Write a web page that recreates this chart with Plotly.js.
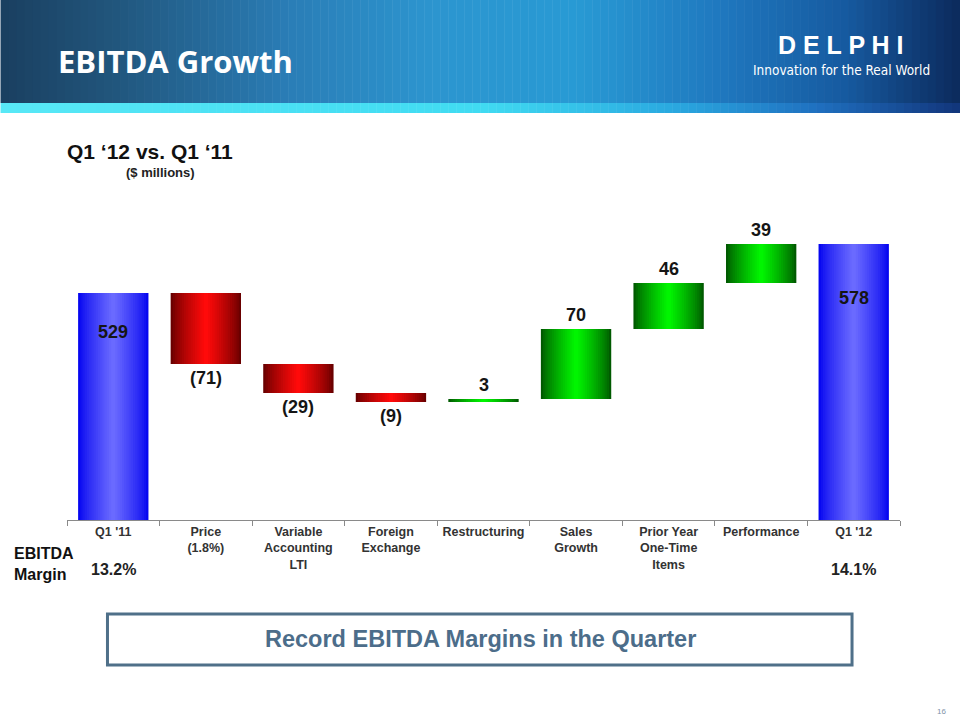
<!DOCTYPE html>
<html>
<head>
<meta charset="utf-8">
<script src="https://cdn.plot.ly/plotly-3.0.1.min.js"></script>
<style>
  html, body { margin: 0; padding: 0; background: #fff; }
  #chart { width: 960px; height: 720px; }
</style>
</head>
<body>
<div id="chart"></div>
<script>
// ---------- data ----------
const categories = ["Q1 '11", "Price", "Variable Accounting LTI", "Foreign Exchange", "Restructuring",
                    "Sales Growth", "Prior Year One-Time Items", "Performance", "Q1 '12"];
const tickLabels = ["Q1 '11", "Price<br>(1.8%)", "Variable<br>Accounting<br>LTI", "Foreign<br>Exchange",
                    "Restructuring", "Sales<br>Growth", "Prior Year<br>One-Time<br>Items", "Performance", "Q1 '12"];
const measures = ["absolute", "relative", "relative", "relative", "relative", "relative", "relative", "relative", "total"];
const values = [529, -71, -29, -9, 3, 70, 46, 39, 0];
const marginCategories = ["Q1 '11", "Q1 '12"];
const marginPct = [13.2, 14.1];

// ---------- geometry helpers (plot area in pixels) ----------
const PL = 66.5, PW = 833.5, PT = 200, PH = 320;
const px = x => (x - PL) / PW;
const py = y => (PT + PH - y) / PH;
const FONT = "Liberation Sans, Arial, sans-serif";

function hex2rgb(h) { return [1, 3, 5].map(i => parseInt(h.substr(i, 2), 16)); }
function lerp(a, b, t) {
  const A = hex2rgb(a), B = hex2rgb(b);
  return "rgb(" + A.map((v, i) => Math.round(v + (B[i] - v) * t)).join(",") + ")";
}
function gradAt(stops, t) {
  for (let i = 0; i < stops.length - 1; i++) {
    if (t <= stops[i + 1][0]) {
      const s = (t - stops[i][0]) / (stops[i + 1][0] - stops[i][0]);
      return lerp(stops[i][1], stops[i + 1][1], s);
    }
  }
  return stops[stops.length - 1][1];
}

// ---------- waterfall layers (horizontal shading) ----------
const N = 16, BW = 0.76;
const traces = [];
for (let k = 0; k < N; k++) {
  const f = 1 - k / N;
  const t = Math.pow(k / (N - 1), 0.8);
  traces.push({
    type: "waterfall",
    x: categories,
    y: values,
    measure: measures,
    width: BW * f,
    connector: { visible: false },
    increasing: { marker: { color: lerp("#005a00", "#00f500", t) } },
    decreasing: { marker: { color: lerp("#6a0000", "#ff0a0a", t) } },
    totals: { marker: { color: lerp("#0606f0", "#6a6aff", t) } },
    textinfo: "none",
    hoverinfo: "skip",
    showlegend: false
  });
}

// ---------- value labels ----------
const annotations = [];
let run = 0;
values.forEach((v, i) => {
  let end, txt, yanchor, yshift;
  if (measures[i] === "absolute") { run = v; end = run; txt = String(v); yanchor = "top"; yshift = -27; }
  else if (measures[i] === "total") { end = run; txt = String(run); yanchor = "top"; yshift = -42; }
  else {
    run += v; end = run;
    if (v < 0) { txt = "(" + Math.abs(v) + ")"; yanchor = "top"; yshift = -2; }
    else { txt = String(v); yanchor = "bottom"; yshift = 2; }
  }
  annotations.push({
    x: categories[i], y: end, xref: "x", yref: "y", text: txt, showarrow: false,
    yanchor: yanchor, yshift: yshift,
    font: { family: FONT, size: 18, color: "#151515", weight: "bold" }
  });
});

// margin row
marginCategories.forEach((c, i) => {
  annotations.push({
    x: c, xref: "x", y: py(569), yref: "paper", text: marginPct[i].toFixed(1) + "%",
    showarrow: false, yanchor: "middle",
    font: { family: FONT, size: 16, color: "#222", weight: "bold" }
  });
});
annotations.push({
  x: px(11), xref: "paper", y: py(564), yref: "paper", text: "EBITDA<br>Margin",
  showarrow: false, xanchor: "left", yanchor: "middle", align: "left",
  font: { family: FONT, size: 16, color: "#111", weight: "bold" }
});

// titles / header text
annotations.push(
  { x: px(55), xref: "paper", y: py(61), yref: "paper", text: "EBITDA Growth", showarrow: false,
    xanchor: "left", yanchor: "middle",
    font: { family: "Open Sans, sans-serif", size: 31, color: "#ffffff", weight: "bold" } },
  { x: px(841), xref: "paper", y: py(45), yref: "paper", text: "D E L P H I", showarrow: false,
    xanchor: "center", yanchor: "middle",
    font: { family: FONT, size: 25, color: "#ffffff", weight: "bold" } },
  { x: px(841), xref: "paper", y: py(70), yref: "paper", text: "Innovation for the Real World", showarrow: false,
    xanchor: "center", yanchor: "middle",
    font: { family: "DejaVu Sans Condensed, " + FONT, size: 13.5, color: "#ffffff" } },
  { x: px(64), xref: "paper", y: py(151), yref: "paper", text: "Q1 \u201812 vs. Q1 \u201811", showarrow: false,
    xanchor: "left", yanchor: "middle",
    font: { family: FONT, size: 21, color: "#111", weight: "bold" } },
  { x: px(160), xref: "paper", y: py(172), yref: "paper", text: "($ millions)", showarrow: false,
    xanchor: "center", yanchor: "middle",
    font: { family: FONT, size: 13, color: "#222", weight: "bold" } },
  { x: px(480), xref: "paper", y: py(639), yref: "paper", text: "Record EBITDA Margins in the Quarter", showarrow: false,
    xanchor: "center", yanchor: "middle",
    font: { family: FONT, size: 23.5, color: "#4c6d8a", weight: "bold" } },
  { x: px(942), xref: "paper", y: py(711), yref: "paper", text: "16", showarrow: false,
    xanchor: "center", yanchor: "middle",
    font: { family: FONT, size: 8, color: "#7f93a8" } }
);

// ---------- header banner shapes ----------
const shapes = [];
const bannerStops = [[0, "#1a3f60"], [0.12, "#21567d"], [0.3, "#2a7db6"], [0.45, "#2c95cf"],
                     [0.6, "#289ad4"], [0.75, "#1f78bf"], [0.88, "#165aa0"], [1, "#0c2a5c"]];
const stripeStops = [[0, "#58e8f6"], [0.5, "#40dbf2"], [0.7, "#2aa9e0"], [0.85, "#1f70c0"], [1, "#12357a"]];
const STEP = 8;
for (let x = 0; x < 960; x += STEP) {
  const t = (x + STEP / 2) / 960;
  shapes.push({ type: "rect", xref: "paper", yref: "paper", layer: "below",
    x0: px(x), x1: px(x + STEP + 0.5), y0: py(0), y1: py(103),
    fillcolor: gradAt(bannerStops, t), line: { width: 0 } });
  shapes.push({ type: "rect", xref: "paper", yref: "paper", layer: "below",
    x0: px(x), x1: px(x + STEP + 0.5), y0: py(103), y1: py(113),
    fillcolor: gradAt(stripeStops, t), line: { width: 0 } });
}
// message box
shapes.push({ type: "rect", xref: "paper", yref: "paper",
  x0: px(107), x1: px(852), y0: py(614), y1: py(665),
  fillcolor: "rgba(0,0,0,0)", line: { color: "#4f7089", width: 3 } });

const layout = {
  width: 960, height: 720,
  margin: { l: PL, r: 960 - PL - PW, t: PT, b: 720 - PT - PH },
  paper_bgcolor: "#ffffff", plot_bgcolor: "#ffffff",
  waterfallmode: "overlay",
  showlegend: false,
  xaxis: {
    type: "category", categoryorder: "array", categoryarray: categories,
    tickvals: categories, ticktext: tickLabels,
    range: [-0.5, categories.length - 0.5],
    showline: true, linecolor: "#8a8a8a", linewidth: 1,
    ticks: "outside", tickson: "boundaries", ticklen: 5, tickcolor: "#8a8a8a",
    showgrid: false, zeroline: false, fixedrange: true,
    tickfont: { family: FONT, size: 12.5, color: "#333", weight: "bold" }
  },
  yaxis: {
    range: [302, 622], visible: false, showgrid: false, zeroline: false, fixedrange: true
  },
  annotations: annotations,
  shapes: shapes
};

Plotly.newPlot("chart", traces, layout, { displayModeBar: false, staticPlot: true });
</script>
</body>
</html>
